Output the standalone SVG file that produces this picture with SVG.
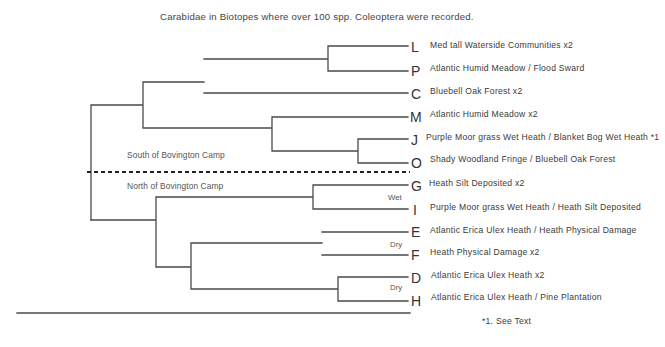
<svg xmlns="http://www.w3.org/2000/svg" width="665" height="347" viewBox="0 0 665 347">
<style>
.ln{stroke:#4a4a4a;stroke-width:1.3;fill:none;stroke-linecap:square}
.dash{stroke:#222;stroke-width:1.8;stroke-dasharray:4,3;fill:none}
.let{font-family:"Liberation Sans Narrow","Liberation Sans",Arial,sans-serif;font-size:14px;fill:#333}
.lab{font-family:"Liberation Sans",Arial,sans-serif;font-size:8.6px;letter-spacing:0.25px;fill:#3a3a3a}
.grp{font-family:"Liberation Sans",Arial,sans-serif;font-size:8.4px;letter-spacing:0.1px;fill:#555}
.sm{font-family:"Liberation Sans",Arial,sans-serif;font-size:7.8px;fill:#555}
.title{font-family:"Liberation Sans",Arial,sans-serif;font-size:9.6px;letter-spacing:0.2px;fill:#444}
</style>
<rect width="665" height="347" fill="#fff"/>
<text class="title" x="160" y="20">Carabidae in Biotopes where over 100 spp. Coleoptera were recorded.</text>
<g id="connectors">
<path class="ln" d="M328,46H408M328,71H408M328,46V71M204,59H328M204,93H408M143,82H204M143,82V128M143,128H272M272,117H408M272,117V151M272,151H358M358,139H408M358,163H408M358,139V163M91,105H143M91,105V220"/>
<path class="ln" d="M313,185H408M313,209H408M313,185V209M156,197H313M156,197V267M91,220H156M156,267H191M191,243V289M191,243H322M322,232H408M322,255H408M338,277H408M338,301H408M338,277V301M191,289H338"/>
<path class="ln" d="M17,313H410"/>
<path class="dash" d="M87,172H410"/>
</g>
<g id="groups">
<text class="grp" x="127" y="158">South of Bovington Camp</text>
<text class="grp" x="127" y="189">North of Bovington Camp</text>
<text class="sm" x="388" y="200">Wet</text>
<text class="sm" x="390" y="247">Dry</text>
<text class="sm" x="390" y="290">Dry</text>
</g>
<g id="node-L"><text class="let" x="411" y="52">L</text><text class="lab" x="430" y="48">Med tall Waterside Communities x2</text></g>
<g id="node-P"><text class="let" x="411" y="76">P</text><text class="lab" x="430" y="71">Atlantic Humid Meadow / Flood Sward</text></g>
<g id="node-C"><text class="let" x="411" y="99">C</text><text class="lab" x="430" y="94">Bluebell Oak Forest x2</text></g>
<g id="node-M"><text class="let" x="410" y="122">M</text><text class="lab" x="430" y="117">Atlantic Humid Meadow x2</text></g>
<g id="node-J"><text class="let" x="411" y="145">J</text><text class="lab" x="426" y="140">Purple Moor grass Wet Heath / Blanket Bog Wet Heath *1</text></g>
<g id="node-O"><text class="let" x="411" y="168">O</text><text class="lab" x="430" y="162">Shady Woodland Fringe / Bluebell Oak Forest</text></g>
<g id="node-G"><text class="let" x="411" y="191">G</text><text class="lab" x="429" y="186">Heath Silt Deposited x2</text></g>
<g id="node-I"><text class="let" x="413" y="215">I</text><text class="lab" x="430" y="210">Purple Moor grass Wet Heath / Heath Silt Deposited</text></g>
<g id="node-E"><text class="let" x="411" y="237">E</text><text class="lab" x="430" y="233">Atlantic Erica Ulex Heath / Heath Physical Damage</text></g>
<g id="node-F"><text class="let" x="411" y="260">F</text><text class="lab" x="430" y="255">Heath Physical Damage x2</text></g>
<g id="node-D"><text class="let" x="411" y="283">D</text><text class="lab" x="431" y="278">Atlantic Erica Ulex Heath x2</text></g>
<g id="node-H"><text class="let" x="411" y="306">H</text><text class="lab" x="431" y="300">Atlantic Erica Ulex Heath / Pine Plantation</text></g>
<text class="lab" x="482" y="324">*1. See Text</text>
</svg>
